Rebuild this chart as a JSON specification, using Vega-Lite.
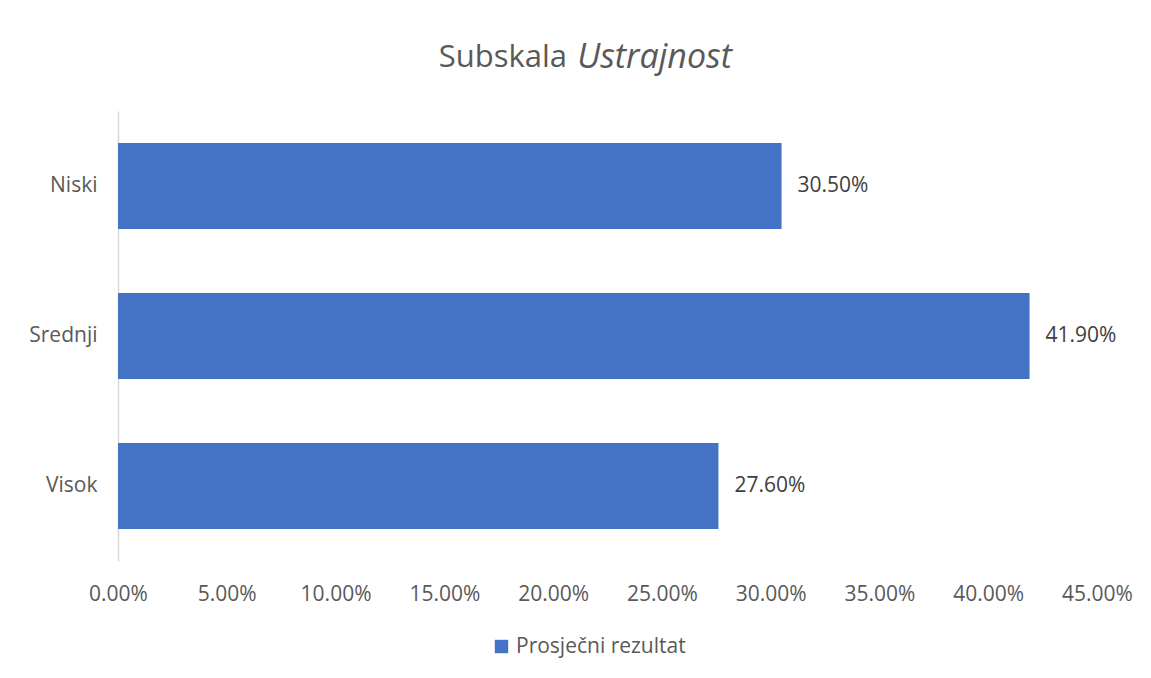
{
  "$schema": "https://vega.github.io/schema/vega-lite/v6.json",
  "padding": {"left": 28, "top": 41, "right": 10, "bottom": 10},
  "background": "white",
  "config": {
    "font": "Open Sans",
    "view": {"stroke": null},
    "title": {"font": "Open Sans", "color": "#595959", "fontWeight": "normal"}
  },
  "title": {"text": "Subskala", "fontSize": 31, "anchor": "start", "dx": 410, "dy": 37},
  "vconcat": [
    {
      "title": {"text": "Ustrajnost", "fontSize": 34, "fontStyle": "italic", "anchor": "middle", "dx": 47, "offset": 36},
      "width": 979,
      "height": 450,
      "data": {
        "values": [
          {"kategorija": "Niski", "vrijednost": 0.305, "serija": "Prosječni rezultat"},
          {"kategorija": "Srednji", "vrijednost": 0.419, "serija": "Prosječni rezultat"},
          {"kategorija": "Visok", "vrijednost": 0.276, "serija": "Prosječni rezultat"}
        ]
      },
      "encoding": {
        "y": {
          "field": "kategorija",
          "type": "nominal",
          "sort": ["Niski", "Srednji", "Visok"],
          "scale": {"paddingInner": 0.4267, "paddingOuter": 0.2133},
          "axis": {
            "title": null,
            "ticks": false,
            "domainColor": "#d9d9d9",
            "domainWidth": 1.5,
            "labelFontSize": 21,
            "labelColor": "#595959",
            "labelPadding": 21,
            "labelFont": "Open Sans"
          }
        },
        "x": {
          "field": "vrijednost",
          "type": "quantitative",
          "scale": {"domain": [0, 0.45], "nice": false},
          "axis": {
            "title": null,
            "format": ".2%",
            "values": [0, 0.05, 0.1, 0.15, 0.2, 0.25, 0.3, 0.35, 0.4, 0.45],
            "domain": false,
            "ticks": false,
            "grid": false,
            "labelFontSize": 21,
            "labelColor": "#595959",
            "labelPadding": 22,
            "labelFont": "Open Sans",
            "labelFlush": false
          }
        }
      },
      "layer": [
        {
          "mark": {"type": "bar"},
          "encoding": {
            "color": {
              "field": "serija",
              "type": "nominal",
              "scale": {"range": ["#4472C4"]},
              "legend": {
                "title": null,
                "orient": "none",
                "legendX": 373,
                "legendY": 525,
                "symbolType": "square",
                "symbolSize": 180,
                "labelFontSize": 21,
                "labelLimit": 400,
                "labelColor": "#595959",
                "labelFont": "Open Sans"
              }
            }
          }
        },
        {
          "mark": {"type": "text", "align": "left", "baseline": "middle", "dx": 16, "fontSize": 21, "color": "#404040"},
          "encoding": {
            "text": {"field": "vrijednost", "type": "quantitative", "format": ".2%"}
          }
        }
      ]
    }
  ]
}
